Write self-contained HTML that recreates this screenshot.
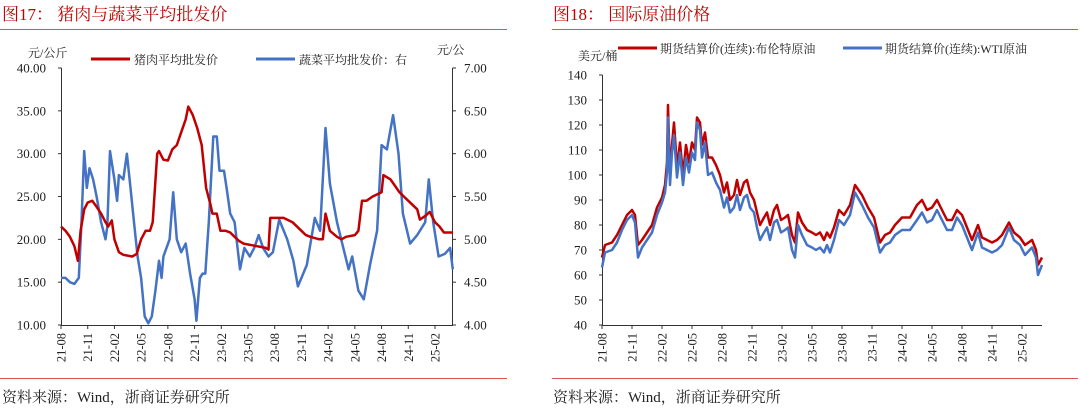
<!DOCTYPE html>
<html><head><meta charset="utf-8">
<style>
html,body{margin:0;padding:0;background:#fff;width:1080px;height:411px;overflow:hidden}
svg{display:block;font-family:"Liberation Serif","Noto Serif CJK SC",serif}
</style></head>
<body>
<svg id="svg" width="1080" height="411" viewBox="0 0 1080 411" xmlns="http://www.w3.org/2000/svg">
  <text x="2" y="20" font-size="17" fill="#c00000">图17：  猪肉与蔬菜平均批发价</text>
  <line x1="0" y1="29.5" x2="507" y2="29.5" stroke="#d9534f" stroke-width="1"/>
  <text x="553" y="20" font-size="17" fill="#c00000">图18：  国际原油价格</text>
  <line x1="552" y1="29.5" x2="1078" y2="29.5" stroke="#d9534f" stroke-width="1"/>
  <line x1="0" y1="378.5" x2="507" y2="378.5" stroke="#d9534f" stroke-width="1"/>
  <line x1="552" y1="378.5" x2="1078" y2="378.5" stroke="#d9534f" stroke-width="1"/>
  <text x="2" y="402" font-size="15" fill="#222">资料来源：Wind，浙商证券研究所</text>
  <text x="553" y="402" font-size="15" fill="#222">资料来源：Wind，浙商证券研究所</text>

  <!-- legends and units -->
  <text x="28" y="57" font-size="12" fill="#222">元/公斤</text>
  <text x="437" y="54" font-size="12" fill="#222">元/公</text>
  <line x1="91" y1="59" x2="130" y2="59" stroke="#c00000" stroke-width="3"/>
  <text x="134" y="64" font-size="12" fill="#222">猪肉平均批发价</text>
  <line x1="256" y1="59" x2="295" y2="59" stroke="#4472c4" stroke-width="3"/>
  <text x="299" y="64" font-size="12" fill="#222">蔬菜平均批发价：右</text>

  <text x="578" y="60" font-size="12" fill="#222">美元/桶</text>
  <line x1="618" y1="48" x2="657" y2="48" stroke="#c00000" stroke-width="3"/>
  <text x="660" y="53" font-size="12" fill="#222">期货结算价(连续):布伦特原油</text>
  <line x1="843" y1="48" x2="882" y2="48" stroke="#4472c4" stroke-width="3"/>
  <text x="885" y="53" font-size="12" fill="#222">期货结算价(连续):WTI原油</text>
  <g id="charts"></g>
</svg>
<script>
const xTickLabels = ["21-08","21-11","22-02","22-05","22-08","22-11","23-02","23-05","23-08","23-11","24-02","24-05","24-08","24-11","25-02"];
const leftTicks = ["10.00","15.00","20.00","25.00","30.00","35.00","40.00"];
const rightTicks = ["4.00","4.50","5.00","5.50","6.00","6.50","7.00"];
const oilTicks = ["40","50","60","70","80","90","100","110","120","130","140"];

const porkMonths = [0,0.5,1,1.5,1.9,2.2,2.6,3,3.5,4,4.5,5,5.3,5.7,6,6.5,7,8,8.5,9,9.5,10,10.3,10.8,11,11.5,12,12.5,13,13.5,14,14.3,14.8,15.3,15.8,16.3,16.8,17,17.5,17.9,18.5,19,19.5,20,20.5,21.5,22,23,23.3,23.5,24,24.5,25,26,27,27.5,28,29,29.4,29.7,30.2,31,31.5,32,33,33.4,33.8,34.3,35,36,36.2,37,38,38.5,39,40,40.3,41,41.4,42,42.5,43,44];
const porkValues = [21.5,21,20.3,19.2,17.5,21,23.5,24.3,24.5,23.8,23,22,21.5,22.2,20,18.5,18.2,18,18.3,20,21,21,22,30,30.3,29.3,29.2,30.5,31,32.5,34,35.5,34.5,33,31,26,24,23,23,21,21,20.8,20.3,19.8,19.5,19.3,19.2,19,18.8,22.5,22.5,22.5,22.5,22,21,20.5,20.3,20,20,23,21,20.3,20,20.3,20.5,21,24.5,24.5,25,25.5,27.5,27,25.5,25,24.5,23.5,22.3,22.8,23.2,22,21.5,20.8,20.8];

const vegMonths = [0,0.5,1,1.5,2,2.3,2.6,2.9,3.2,3.6,4,4.5,5,5.2,5.5,6,6.3,6.5,7,7.4,7.8,8.2,8.6,9,9.4,9.8,10.2,10.6,11,11.3,11.5,12.2,12.6,13,13.5,14,14.5,15,15.2,15.6,15.9,16.2,16.6,17.1,17.5,17.8,18.3,18.6,19,19.5,20.1,20.6,21.2,21.7,22.2,22.7,23.3,23.8,24.5,25.4,26.1,26.6,27.6,28.5,29.1,29.7,30.2,31,31.7,32.3,32.7,33.4,34,34.7,35.5,36,36.6,37.3,37.9,38.4,39.2,40,40.9,41.3,41.8,42.4,43.1,43.7,44];
const vegValues = [4.55,4.55,4.5,4.48,4.55,5.2,6.03,5.6,5.83,5.7,5.5,5.2,5.0,5.15,6.03,5.7,5.45,5.75,5.7,6.0,5.6,5.2,4.8,4.55,4.1,4.02,4.1,4.4,4.75,4.55,4.8,5.0,5.55,5.0,4.85,4.95,4.6,4.3,4.05,4.55,4.6,4.6,5.2,6.2,6.2,5.8,5.8,5.6,5.3,5.2,4.65,4.9,4.8,4.9,5.05,4.9,4.8,4.85,5.23,5.0,4.75,4.45,4.7,5.25,5.1,6.3,5.65,5.2,4.9,4.65,4.8,4.4,4.3,4.7,5.1,6.1,6.05,6.45,6.0,5.3,4.95,5.05,5.2,5.7,5.2,4.8,4.83,4.9,4.65];

const oilMonths = [0,0.3,1,1.5,2,2.5,3,3.3,3.6,4,4.5,5,5.5,6,6.3,6.5,6.6,6.8,7,7.2,7.5,7.8,8.1,8.4,8.7,9,9.3,9.5,9.8,10,10.3,10.6,11,11.4,11.8,12.2,12.5,12.8,13.2,13.5,13.8,14.2,14.5,14.8,15.2,15.5,15.8,16.2,16.5,16.8,17.2,17.5,17.9,18.3,18.6,19,19.3,19.6,20,20.5,21,21.4,21.8,22.2,22.5,22.8,23.2,23.7,24.2,24.8,25.3,26,26.6,27.2,27.8,28.3,28.8,29.3,30,30.8,31.5,32,32.5,33,33.5,34,34.5,35,35.5,36,36.5,37,37.6,38,38.5,39,39.5,40,40.7,41.2,41.8,42.3,43,43.4,43.6,44];
const brentValues = [67,72,73,76,80,84,86,84,72,74,77,80,87,91,96,105,128,100,112,121,103,113,100,112,105,113,110,123,121,112,117,107,107,104,100,93,97,90,92,98,92,97,98,93,90,85,80,83,85,80,86,88,82,83,84,76,73,85,81,78,77,76,77,74,77,75,79,86,84,88,96,92,87,83,73,76,77,80,83,83,88,90,86,87,90,86,82,82,86,84,79,74,80,75,74,73,74,76,81,77,75,72,74,70,64,67];
const wtiValues = [63,69,70,73,78,82,84,81,67,71,74,77,84,89,93,101,123,96,109,116,99,109,96,107,101,109,106,121,118,107,113,100,101,97,94,87,91,85,87,92,86,91,92,87,85,79,74,77,79,74,81,82,77,78,79,70,67,80,76,72,71,70,71,69,72,69,74,82,80,84,93,88,83,79,69,72,73,76,78,78,82,85,81,82,86,82,78,78,83,80,75,70,77,71,70,69,70,72,79,74,72,68,71,67,60,64];

const NS = "http://www.w3.org/2000/svg";
const root = document.getElementById('charts');
function mk(tag, attrs, parent){const e=document.createElementNS(NS,tag);for(const k in attrs)e.setAttribute(k,attrs[k]);(parent||root).appendChild(e);return e;}

/* left chart axes */
const L = {x0:61, mw:(435-61)/42, yTop:68, yBot:325};
const lx = m => L.x0 + m*L.mw;
const ly = v => L.yBot - (v-10)/30*(L.yBot-L.yTop);
const ry = v => L.yBot - (v-4)/3*(L.yBot-L.yTop);
/* right chart axes */
const O = {x0:602, mw:10, yTop:75, yBot:325};
const ox = m => O.x0 + m*O.mw;
const oy = v => O.yBot - (v-40)/100*(O.yBot-O.yTop);

function drawAxes(){
  let e;
  e = mk('line',{x1:61.5,y1:68,x2:61.5,y2:325,stroke:'#333','stroke-width':1});
   
  e = mk('line',{x1:452.5,y1:68,x2:452.5,y2:325,stroke:'#333','stroke-width':1});
   
  e = mk('line',{x1:61,y1:325.5,x2:453,y2:325.5,stroke:'#333','stroke-width':1});
   
  leftTicks.forEach((t,i)=>{
    const y = ly(10+i*5);
    let tk = mk('line',{x1:58,y1:y,x2:61.5,y2:y,stroke:'#333'});
     
    let tx = mk('text',{x:46,y:y+4.5,'font-size':13,'text-anchor':'end',fill:'#222'});
    tx.textContent = t;
     
  });
  rightTicks.forEach((t,i)=>{
    const y = ry(4+i*0.5);
    let tk = mk('line',{x1:452.5,y1:y,x2:456,y2:y,stroke:'#333'});
     
    let tx = mk('text',{x:464,y:y+4.5,'font-size':13,fill:'#222'});
    tx.textContent = t;
     
  });
  xTickLabels.forEach((t,i)=>{
    const x = lx(i*3);
    let tk = mk('line',{x1:x,y1:325,x2:x,y2:329,stroke:'#333'});
     
    let tx = mk('text',{x:0,y:0,'font-size':12.5,'text-anchor':'end',fill:'#222',transform:`translate(${x+4.5},333) rotate(-90)`});
    tx.textContent = t;
     
  });

  e = mk('line',{x1:602.5,y1:75,x2:602.5,y2:325,stroke:'#333','stroke-width':1});
   
  e = mk('line',{x1:602,y1:325.5,x2:1042,y2:325.5,stroke:'#333','stroke-width':1});
   
  oilTicks.forEach((t,i)=>{
    const y = oy(40+i*10);
    let tk = mk('line',{x1:599,y1:y,x2:602.5,y2:y,stroke:'#333'});
     
    let tx = mk('text',{x:587,y:y+4.5,'font-size':13,'text-anchor':'end',fill:'#222'});
    tx.textContent = t;
     
  });
  xTickLabels.forEach((t,i)=>{
    const x = ox(i*3);
    let tk = mk('line',{x1:x,y1:325,x2:x,y2:329,stroke:'#333'});
     
    let tx = mk('text',{x:0,y:0,'font-size':12.5,'text-anchor':'end',fill:'#222',transform:`translate(${x+4.5},333) rotate(-90)`});
    tx.textContent = t;
     
  });
}
function pts(ms, vs, fx, fy){return ms.map((m,i)=>fx(m).toFixed(1)+','+fy(vs[i]).toFixed(1)).join(' ');}
drawAxes();
let p;
p = mk('polyline',{points:pts(vegMonths,vegValues,lx,ry),fill:'none',stroke:'#4472c4','stroke-width':2.5,'stroke-linejoin':'round'});
 
p = mk('polyline',{points:pts(porkMonths,porkValues,lx,ly),fill:'none',stroke:'#c00000','stroke-width':2.5,'stroke-linejoin':'round'});
 
p = mk('polyline',{points:pts(oilMonths,brentValues,ox,oy),fill:'none',stroke:'#c00000','stroke-width':2.5,'stroke-linejoin':'round'});
 
p = mk('polyline',{points:pts(oilMonths,wtiValues,ox,oy),fill:'none',stroke:'#4472c4','stroke-width':2.5,'stroke-linejoin':'round'});
 
</script>
</body></html>
